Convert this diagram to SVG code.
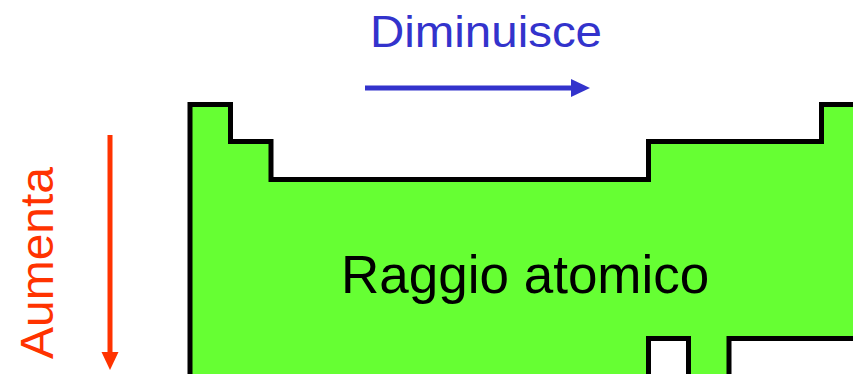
<svg xmlns="http://www.w3.org/2000/svg" width="853" height="374" viewBox="0 0 853 374">
  <defs>
    <style>
      .label { font-family: "Liberation Sans", Arial, sans-serif; }
      .table { fill: #66FF33; stroke: #000; stroke-width: 5; stroke-linejoin: miter; }
    </style>
  </defs>
  <rect width="853" height="374" fill="#fff"/>

  <!-- periodic table outline -->
  <g id="table">
    <path class="table" d="M190,378 V104.5 H230.5 V141.5 H271 V179.5 H648.5 V141.5 H821.5 V104.5 H860 V338.5 H729 V378 H688.5 V338.5 H648.5 V378 Z"/>
    <text class="label" x="341" y="293" font-size="53" fill="#000">Raggio atomico</text>
  </g>

  <!-- trend arrows -->
  <g id="connectors">
    <g id="arrow-across">
      <line x1="365" y1="88" x2="574" y2="88" stroke="#3333CC" stroke-width="5"/>
      <polygon points="571,79 590,88 571,97" fill="#3333CC"/>
    </g>
    <g id="arrow-down">
      <line x1="110" y1="135" x2="110" y2="355" stroke="#FF3300" stroke-width="5"/>
      <polygon points="101.5,352 110,370 118.5,352" fill="#FF3300"/>
    </g>
  </g>

  <g id="label-across">
    <text class="label" x="370" y="47" font-size="45" fill="#3333CC" textLength="232" lengthAdjust="spacingAndGlyphs">Diminuisce</text>
  </g>
  <g id="label-down">
    <text class="label" transform="translate(53,359) rotate(-90)" font-size="46" fill="#FF3300" textLength="192" lengthAdjust="spacingAndGlyphs">Aumenta</text>
  </g>
</svg>
